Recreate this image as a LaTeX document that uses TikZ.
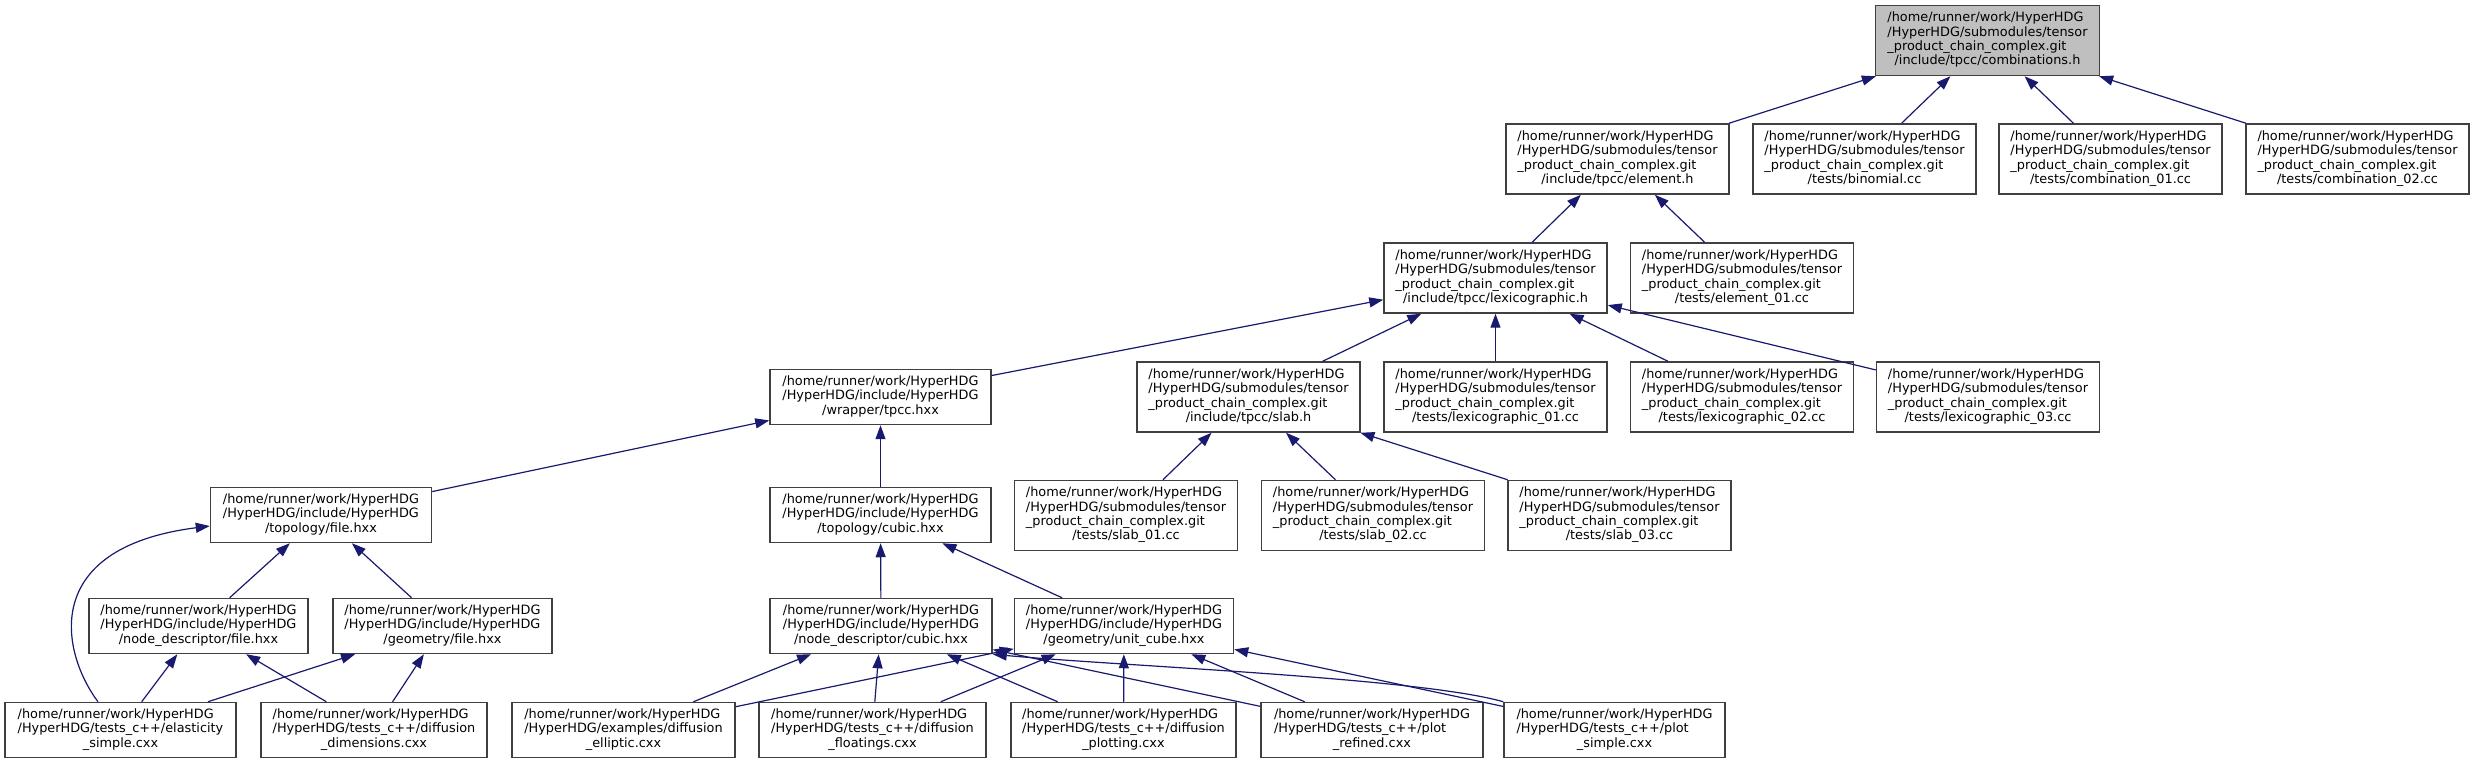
\documentclass[tikz,border=0pt]{standalone}
\usepackage{fontspec}
\setmainfont{DejaVu Sans}
\usetikzlibrary{arrows.meta,calc}
\definecolor{edgecol}{HTML}{191970}
\definecolor{boxline}{HTML}{404040}
\definecolor{rootfill}{HTML}{BFBFBF}
\newcommand{\dlbl}[2]{\begin{tabular}{@{}l@{}}#1\\\multicolumn{1}{@{}c@{}}{#2}\end{tabular}}
\newcommand{\tpc}{/home/runner/work/HyperHDG\\/HyperHDG/submodules/tensor\\\_product\_chain\_complex.git}
\newcommand{\hinc}{/home/runner/work/HyperHDG\\/HyperHDG/include/HyperHDG}
\tikzset{
  box/.style={draw=boxline, line width=0.75pt, fill=white, inner sep=0pt,
    minimum width=111.5pt, minimum height=35pt,
    font=\fontsize{6.43}{7.2}\selectfont},
  box3/.style={box, minimum height=27.5pt},
  bw/.style={minimum width=#1*0.5pt},
  edge/.style={draw=edgecol, line width=0.6pt, -{Triangle[length=7pt,width=5pt]}},
}
\begin{document}
\begin{tikzpicture}[x=0.5pt,y=-0.5pt]
\fill[white] (0,0) rectangle (2475,764);
\useasboundingbox (0,0) rectangle (2475,764);
% row 0
\node[box,fill=rootfill,bw=224] (comb) at (1987.5,40.5) {\dlbl{\tpc}{/include/tpcc/combinations.h}};
% row 1
\node[box] (elem)  at (1617.5,159) {\dlbl{\tpc}{/include/tpcc/element.h}};
\node[box] (binom) at (1864.5,159) {\dlbl{\tpc}{/tests/binomial.cc}};
\node[box] (comb1) at (2110.5,159) {\dlbl{\tpc}{/tests/combination\_01.cc}};
\node[box] (comb2) at (2357.5,159) {\dlbl{\tpc}{/tests/combination\_02.cc}};
% row 2
\node[box] (lex) at (1495.5,278) {\dlbl{\tpc}{/include/tpcc/lexicographic.h}};
\node[box] (el1) at (1742,278) {\dlbl{\tpc}{/tests/element\_01.cc}};
% row 3
\node[box3,bw=221] (tpcc) at (880.5,397) {\dlbl{\hinc}{/wrapper/tpcc.hxx}};
\node[box] (slab) at (1248.5,397) {\dlbl{\tpc}{/include/tpcc/slab.h}};
\node[box] (lex1) at (1495.5,397) {\dlbl{\tpc}{/tests/lexicographic\_01.cc}};
\node[box] (lex2) at (1742,397) {\dlbl{\tpc}{/tests/lexicographic\_02.cc}};
\node[box] (lex3) at (1988,397) {\dlbl{\tpc}{/tests/lexicographic\_03.cc}};
% row 4
\node[box3,bw=221] (tfile) at (321,515) {\dlbl{\hinc}{/topology/file.hxx}};
\node[box3,bw=221] (tcubic) at (880.5,515) {\dlbl{\hinc}{/topology/cubic.hxx}};
\node[box] (slab1) at (1126,515.5) {\dlbl{\tpc}{/tests/slab\_01.cc}};
\node[box] (slab2) at (1373,515.5) {\dlbl{\tpc}{/tests/slab\_02.cc}};
\node[box] (slab3) at (1619.5,515.5) {\dlbl{\tpc}{/tests/slab\_03.cc}};
% row 5
\node[box3,bw=219] (ndfile) at (198.5,626) {\dlbl{\hinc}{/node\_descriptor/file.hxx}};
\node[box3,bw=219] (gfile) at (442.5,626) {\dlbl{\hinc}{/geometry/file.hxx}};
\node[box3,bw=222] (ndcubic) at (881,626) {\dlbl{\hinc}{/node\_descriptor/cubic.hxx}};
\node[box3,bw=219] (ucube) at (1124,626) {\dlbl{\hinc}{/geometry/unit\_cube.hxx}};
% row 6
\node[box3,bw=231] (elast) at (120.5,730) {\dlbl{/home/runner/work/HyperHDG\\/HyperHDG/tests\_c++/elasticity}{\_simple.cxx}};
\node[box3,bw=226] (dims) at (374,730) {\dlbl{/home/runner/work/HyperHDG\\/HyperHDG/tests\_c++/diffusion}{\_dimensions.cxx}};
\node[box3,bw=223] (ellip) at (623.5,730) {\dlbl{/home/runner/work/HyperHDG\\/HyperHDG/examples/diffusion}{\_elliptic.cxx}};
\node[box3,bw=227] (float) at (872.5,730) {\dlbl{/home/runner/work/HyperHDG\\/HyperHDG/tests\_c++/diffusion}{\_floatings.cxx}};
\node[box3,bw=225] (plot) at (1123.5,730) {\dlbl{/home/runner/work/HyperHDG\\/HyperHDG/tests\_c++/diffusion}{\_plotting.cxx}};
\node[box3,bw=222] (refin) at (1372,730) {\dlbl{/home/runner/work/HyperHDG\\/HyperHDG/tests\_c++/plot}{\_refined.cxx}};
\node[box3,bw=221] (simpl) at (1614.5,730) {\dlbl{/home/runner/work/HyperHDG\\/HyperHDG/tests\_c++/plot}{\_simple.cxx}};
% edges
\draw[edge] (elem) -- (comb);
\draw[edge] (binom) -- (comb);
\draw[edge] (comb1) -- (comb);
\draw[edge] (comb2) -- (comb);
\draw[edge] (lex) -- (elem);
\draw[edge] (el1) -- (elem);
\draw[edge] (tpcc) -- (lex);
\draw[edge] (slab) -- (lex);
\draw[edge] (lex1) -- (lex);
\draw[edge] (lex2) -- (lex);
\draw[edge] (lex3) -- (lex);
\draw[edge] (tfile) -- (tpcc);
\draw[edge] (tcubic) -- (tpcc);
\draw[edge] (slab1) -- (slab);
\draw[edge] (slab2) -- (slab);
\draw[edge] (slab3) -- (slab);
\draw[edge] (ndfile) -- (tfile);
\draw[edge] (gfile) -- (tfile);
\draw[edge] ($(elast.north)+(-22.5,0)$) .. controls +(-36,-48) and +(-172,22) .. ($(tfile.west)+(0,11)$);
\draw[edge] (ndcubic) -- (tcubic);
\draw[edge] (ucube) -- (tcubic);
\draw[edge] (elast) -- (ndfile);
\draw[edge] (dims) -- (ndfile);
\draw[edge] (elast) -- (gfile);
\draw[edge] (dims) -- (gfile);
\draw[edge] (ellip) -- (ndcubic);
\draw[edge] (float) -- (ndcubic);
\draw[edge] (plot) -- (ndcubic);
\draw[edge] (refin) -- (ndcubic);
\draw[edge] (simpl.north west) .. controls +(-84,-24) and +(130,12) .. (ndcubic.south east);
\draw[edge] (ellip) -- (ucube);
\draw[edge] (float) -- (ucube);
\draw[edge] (plot) -- (ucube);
\draw[edge] (refin) -- (ucube);
\draw[edge] (simpl) -- (ucube);
\end{tikzpicture}
\end{document}
